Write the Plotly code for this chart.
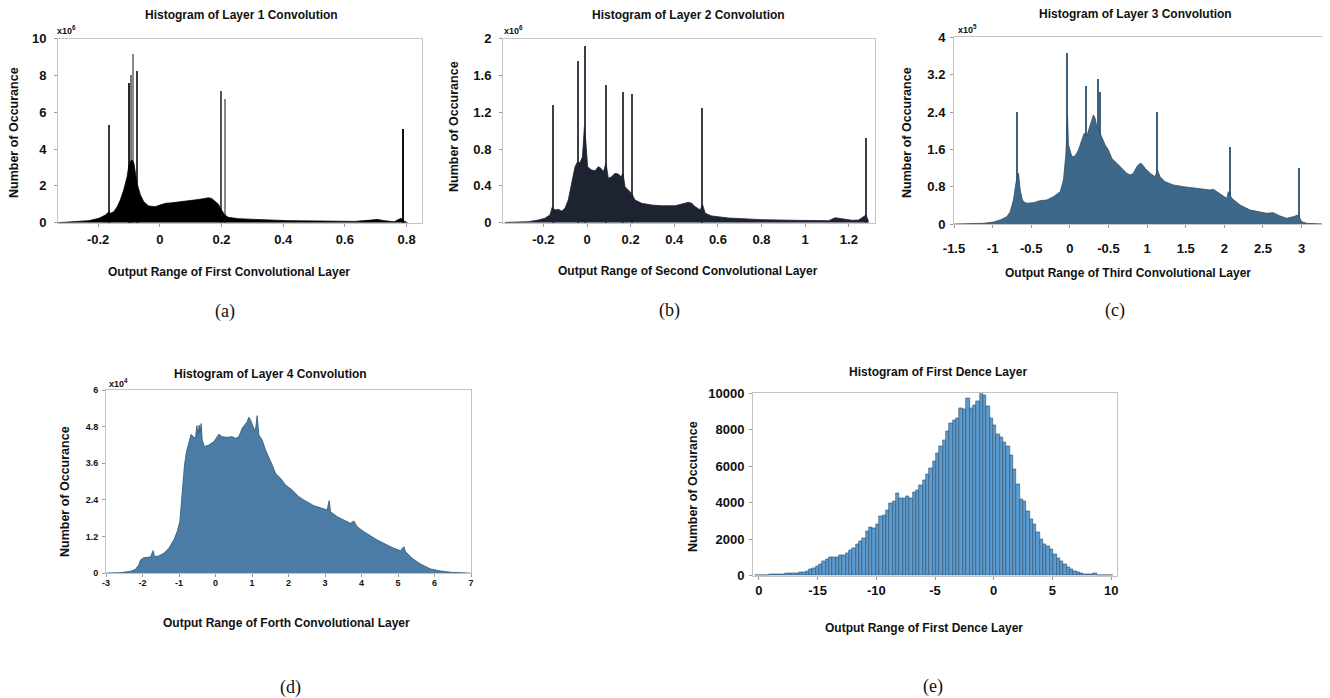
import plotly.graph_objects as go

# ---------------- (a) Layer 1 convolution (counts x10^6) ----------------
l1_x = [-0.33, -0.294, -0.23, -0.197, -0.176, -0.165, -0.16, -0.149, -0.138, -0.128, -0.117, -0.106,
        -0.1, -0.095, -0.09, -0.084, -0.079, -0.074, -0.063, -0.052, -0.036, -0.015, 0.001, 0.018,
        0.039, 0.071, 0.093, 0.125, 0.147, 0.157, 0.168, 0.179, 0.19, 0.2, 0.211, 0.222, 0.254,
        0.308, 0.415, 0.523, 0.631, 0.684, 0.706, 0.727, 0.76, 0.781, 0.792, 0.803]
l1_y = [0.0, 0.04, 0.11, 0.24, 0.42, 0.6, 0.51, 0.6, 0.87, 1.23, 1.78, 2.5,
        3.14, 3.32, 3.41, 3.23, 2.68, 2.14, 1.51, 1.14, 0.91, 0.87, 0.96, 1.05,
        1.08, 1.14, 1.17, 1.26, 1.32, 1.35, 1.32, 1.18, 1.0, 0.69, 0.42, 0.29, 0.22,
        0.18, 0.11, 0.09, 0.07, 0.14, 0.18, 0.11, 0.05, 0.24, 0.09, 0.0]
l1_spike_x = [-0.165, -0.100, -0.094, -0.086, -0.074, 0.197, 0.211, 0.790]
l1_spike_y = [5.35, 7.61, 8.06, 9.17, 8.24, 7.17, 6.72, 5.13]

# ---------------- (b) Layer 2 convolution (counts x10^6) ----------------
l2_x = [-0.376, -0.33, -0.269, -0.223, -0.193, -0.17, -0.159, -0.147, -0.132, -0.116, -0.101, -0.086,
        -0.07, -0.055, -0.043, -0.032, -0.021, -0.012, -0.006, 0.003, 0.021, 0.037, 0.052, 0.064,
        0.075, 0.087, 0.098, 0.113, 0.128, 0.144, 0.156, 0.165, 0.174, 0.19, 0.205, 0.22, 0.251,
        0.297, 0.343, 0.404, 0.435, 0.465, 0.48, 0.496, 0.519, 0.529, 0.542, 0.572, 0.649, 0.802,
        0.955, 1.107, 1.138, 1.169, 1.199, 1.215, 1.245, 1.268, 1.279, 1.291]
l2_y = [0.003, 0.004, 0.011, 0.029, 0.048, 0.084, 0.17, 0.138, 0.145, 0.127, 0.156, 0.246,
        0.427, 0.608, 0.662, 0.651, 0.716, 1.04, 0.897, 0.608, 0.572, 0.564, 0.608, 0.59,
        0.553, 0.644, 0.482, 0.499, 0.536, 0.528, 0.499, 0.536, 0.391, 0.355, 0.318, 0.246, 0.21,
        0.192, 0.184, 0.184, 0.203, 0.221, 0.21, 0.174, 0.138, 0.2, 0.102, 0.073, 0.051, 0.033,
        0.026, 0.022, 0.054, 0.043, 0.037, 0.026, 0.029, 0.065, 0.084, 0.011]
l2_spike_x = [-0.155, -0.040, -0.008, 0.089, 0.165, 0.205, 0.529, 1.279]
l2_spike_y = [1.287, 1.765, 1.927, 1.504, 1.421, 1.403, 1.248, 0.922]

# ---------------- (c) Layer 3 convolution (counts x10^5) ----------------
l3_x = [-1.5, -1.29, -1.118, -0.988, -0.902, -0.815, -0.772, -0.73, -0.695, -0.665, -0.643, -0.621,
        -0.6, -0.556, -0.471, -0.384, -0.298, -0.212, -0.125, -0.083, -0.052, -0.03, -0.018, 0.026,
        0.069, 0.111, 0.155, 0.185, 0.22, 0.254, 0.285, 0.305, 0.327, 0.349, 0.383, 0.414, 0.457,
        0.499, 0.543, 0.608, 0.673, 0.737, 0.78, 0.823, 0.867, 0.909, 0.931, 0.974, 1.039, 1.103,
        1.133, 1.168, 1.233, 1.34, 1.47, 1.643, 1.815, 1.858, 1.902, 1.966, 2.031, 2.052, 2.096,
        2.203, 2.332, 2.548, 2.634, 2.721, 2.807, 2.893, 2.957, 3.001, 3.066, 3.281]
l3_y = [0.006, 0.01, 0.021, 0.049, 0.092, 0.164, 0.271, 0.52, 0.911, 1.09, 0.734, 0.556,
        0.484, 0.449, 0.463, 0.506, 0.52, 0.591, 0.698, 0.948, 1.483, 2.3, 1.7, 1.447,
        1.461, 1.59, 1.804, 1.946, 1.889, 2.089, 2.232, 2.339, 2.267, 2.089, 1.982, 1.875, 1.697,
        1.59, 1.41, 1.305, 1.198, 1.09, 1.055, 1.09, 1.233, 1.305, 1.29, 1.198, 1.09, 1.019,
        1.162, 1.019, 0.911, 0.841, 0.805, 0.769, 0.734, 0.748, 0.698, 0.627, 0.555, 0.698, 0.556,
        0.413, 0.306, 0.235, 0.249, 0.178, 0.128, 0.164, 0.199, 0.056, 0.021, 0.006]
l3_spike_x = [-0.686, -0.039, 0.207, 0.362, 0.392, 1.125, 2.074, 2.966]
l3_spike_y = [2.402, 3.657, 2.958, 3.10, 2.815, 2.388, 1.639, 1.198]

# ---------------- (d) Layer 4 convolution (counts x10^4) ----------------
l4_x = [-3.0, -2.967, -2.603, -2.329, -2.192, -2.101, -2.055, -1.963, -1.781, -1.735, -1.708, -1.671,
        -1.553, -1.416, -1.279, -1.142, -1.05, -0.977, -0.913, -0.849, -0.795, -0.731, -0.667, -0.612,
        -0.548, -0.511, -0.48, -0.447, -0.42, -0.393, -0.365, -0.301, -0.183, -0.046, 0.091, 0.183,
        0.32, 0.457, 0.548, 0.639, 0.731, 0.868, 0.913, 0.959, 1.05, 1.096, 1.142, 1.187, 1.279,
        1.37, 1.461, 1.553, 1.644, 1.781, 1.918, 2.101, 2.283, 2.42, 2.694, 2.922, 3.059, 3.114,
        3.151, 3.333, 3.516, 3.699, 3.79, 3.881, 4.064, 4.247, 4.429, 4.703, 4.886, 5.068, 5.16,
        5.205, 5.388, 5.616, 5.89, 6.164, 6.438, 6.895, 7.0]
l4_y = [0.0, 0.01, 0.02, 0.065, 0.13, 0.273, 0.436, 0.512, 0.534, 0.709, 0.742, 0.545,
        0.567, 0.654, 0.818, 1.091, 1.363, 1.69, 2.563, 3.545, 3.981, 4.309, 4.549, 4.472,
        4.418, 4.83, 4.55, 4.85, 4.6, 4.9, 4.364, 4.145, 4.2, 4.309, 4.549, 4.472,
        4.45, 4.472, 4.418, 4.472, 4.745, 4.963, 5.107, 5.018, 4.745, 4.69, 5.16, 4.527, 4.364,
        4.036, 3.818, 3.545, 3.273, 3.109, 2.891, 2.727, 2.508, 2.399, 2.214, 2.127, 2.073, 2.378,
        2.018, 1.854, 1.745, 1.636, 1.713, 1.527, 1.363, 1.232, 1.091, 0.927, 0.818, 0.742, 0.872,
        0.709, 0.491, 0.305, 0.142, 0.076, 0.033, 0.01, 0.0]

# ---------------- (e) First dense layer (counts) ----------------
dense_bin_start = -20.3
dense_bin_width = 0.285
dense_counts = [20, 20, 40, 40, 60, 60, 75, 90, 90, 110, 110, 130, 150, 170, 200, 260, 330, 400,
                490, 620, 770, 920, 990, 1030, 990, 1100, 1130, 1230, 1410, 1500, 1720, 1860, 2050,
                2410, 2630, 2600, 2820, 3240, 3330, 3600, 3970, 4060, 4520, 4240, 4240, 4330, 4240,
                4570, 4700, 4930, 5210, 5550, 5880, 6290, 6710, 7070, 7440, 7890, 8350, 8540, 8630,
                9180, 9140, 9720, 9180, 9320, 9540, 9990, 9900, 9270, 8630, 8260, 7750, 7570, 7310,
                7070, 6580, 5850, 5010, 4190, 4060, 3550, 3090, 2820, 2360, 1990, 1740, 1610, 1430,
                1170, 950, 790, 600, 460, 330, 240, 180, 130, 90, 75, 60, 110, 40, 20, 20, 20, 10]
dense_x = [dense_bin_start + dense_bin_width * (i + 0.5) for i in range(len(dense_counts))]

W, H = 1330, 698
OFF = 8  # the page body margin shifts the figure by 8 px right and down


def px(x):
    return (x - OFF) / W


def py(y):
    return 1 - (y - OFF) / H


BOLD = "Liberation Sans"
FRAME = "#c4c4c4"

fig = go.Figure()

# (a)
fig.add_trace(go.Scatter(x=l1_x, y=l1_y, mode="lines", fill="tozeroy", fillcolor="#000000",
                         line=dict(color="#000000", width=0.8), xaxis="x", yaxis="y",
                         showlegend=False, hoverinfo="skip"))
fig.add_trace(go.Bar(x=l1_spike_x, y=l1_spike_y, width=[0.0035] * len(l1_spike_x),
                     marker=dict(color=["#3a3a3a", "#2a2a2a", "#7a7a7a", "#8a8a8a", "#3a3a3a",
                                        "#555555", "#8a8a8a", "#111111"], line=dict(width=0)),
                     xaxis="x", yaxis="y", showlegend=False))
# (b)
fig.add_trace(go.Scatter(x=l2_x, y=l2_y, mode="lines", fill="tozeroy", fillcolor="#1d2331",
                         line=dict(color="#1d2331", width=0.8), xaxis="x2", yaxis="y2",
                         showlegend=False, hoverinfo="skip"))
fig.add_trace(go.Bar(x=l2_spike_x, y=l2_spike_y, width=[0.005] * len(l2_spike_x),
                     marker=dict(color="#3c404a", line=dict(width=0)),
                     xaxis="x2", yaxis="y2", showlegend=False))
# (c)
fig.add_trace(go.Scatter(x=l3_x, y=l3_y, mode="lines", fill="tozeroy", fillcolor="#3d6889",
                         line=dict(color="#2c4d66", width=0.8), xaxis="x3", yaxis="y3",
                         showlegend=False, hoverinfo="skip"))
fig.add_trace(go.Bar(x=l3_spike_x, y=l3_spike_y, width=[0.014] * len(l3_spike_x),
                     marker=dict(color="#40617c", line=dict(width=0)),
                     xaxis="x3", yaxis="y3", showlegend=False))
# (d)
fig.add_trace(go.Scatter(x=l4_x, y=l4_y, mode="lines", fill="tozeroy", fillcolor="#4a7ca5",
                         line=dict(color="#36607f", width=0.9), xaxis="x4", yaxis="y4",
                         showlegend=False, hoverinfo="skip"))
# (e)
fig.add_trace(go.Bar(x=dense_x, y=dense_counts, width=[dense_bin_width] * len(dense_counts),
                     marker=dict(color="#5b9bcf", line=dict(color="#2f4f6c", width=0.6)),
                     xaxis="x5", yaxis="y5", showlegend=False))

tick_font = dict(family=BOLD, size=13, color="#111111", weight="bold")
small_tick_font = dict(family=BOLD, size=9, color="#111111", weight="bold")


def xax(domain, anchor, rng, vals, text, font=tick_font, standoff=2):
    return dict(domain=domain, anchor=anchor, range=rng, tickvals=vals, ticktext=text,
                showline=True, mirror=True, linecolor=FRAME, linewidth=1, showgrid=False,
                zeroline=False, ticks="outside", ticklen=3, tickcolor="#9a9a9a",
                tickfont=font, ticklabelstandoff=standoff, fixedrange=True, automargin=False)


def yax(domain, anchor, rng, vals, text, font=tick_font, standoff=3):
    return dict(domain=domain, anchor=anchor, range=rng, tickvals=vals, ticktext=text,
                showline=True, mirror=True, linecolor=FRAME, linewidth=1, showgrid=False,
                zeroline=False, ticks="outside", ticklen=3, tickcolor="#9a9a9a",
                tickfont=font, ticklabelstandoff=standoff, fixedrange=True, automargin=False)


layout = dict(
    template="none",
    width=W, height=H, margin=dict(l=0, r=0, t=0, b=0, pad=0, autoexpand=False),
    paper_bgcolor="white", plot_bgcolor="white", bargap=0, barmode="overlay",
    xaxis=xax([px(58), px(422)], "y", [-0.33, 0.85], [-0.2, 0, 0.2, 0.4, 0.6, 0.8],
              ["-0.2", "0", "0.2", "0.4", "0.6", "0.8"]),
    yaxis=yax([py(222.7), py(38.5)], "x", [0, 10], [0, 2, 4, 6, 8, 10],
              ["0", "2", "4", "6", "8", "10"], standoff=5),
    xaxis2=xax([px(503), px(875)], "y2", [-0.385, 1.32], [-0.2, 0, 0.2, 0.4, 0.6, 0.8, 1, 1.2],
               ["-0.2", "0", "0.2", "0.4", "0.6", "0.8", "1", "1.2"]),
    yaxis2=yax([py(222.7), py(38.5)], "x2", [0, 2], [0, 0.4, 0.8, 1.2, 1.6, 2],
               ["0", "0.4", "0.8", "1.2", "1.6", "2"], standoff=5),
    xaxis3=xax([px(954), px(1324)], "y3", [-1.5, 3.29], [-1.5, -1, -0.5, 0, 0.5, 1, 1.5, 2, 2.5, 3],
               ["-1.5", "-1", "-0.5", "0", "-0.5", "1", "1.5", "2", "2.5", "3"], standoff=9),
    yaxis3=yax([py(224.3), py(37.3)], "x3", [0, 4], [0, 0.8, 1.6, 2.4, 3.2, 4],
               ["0", "0.8", "1.6", "2.4", "3.2", "4"], standoff=2),
    xaxis4=xax([px(106), px(471)], "y4", [-3, 7], list(range(-3, 8)),
               [str(v) for v in range(-3, 8)], font=small_tick_font, standoff=-2),
    yaxis4=yax([py(573.3), py(390)], "x4", [0, 6], [0, 1.2, 2.4, 3.6, 4.8, 6],
               ["0", "1.2", "2.4", "3.6", "4.8", "6"], font=small_tick_font, standoff=2),
    xaxis5=xax([px(753), px(1117)], "y5", [-20.5, 10.5], [-20, -15, -10, -5, 0, 5, 10],
               ["0", "-15", "-10", "-5", "0", "5", "10"], standoff=0),
    yaxis5=yax([py(575.7), py(393.3)], "x5", [0, 10000], [0, 2000, 4000, 6000, 8000, 10000],
               ["0", "2000", "4000", "6000", "8000", "10000"], standoff=2),
)
fig.update_layout(**layout)

ann = []


def text(x, y, s, size=12, family=BOLD, bold=True, angle=0, xanchor="center"):
    ann.append(dict(x=px(x), y=py(y), xref="paper", yref="paper", text=s, showarrow=False,
                    xanchor=xanchor, yanchor="middle", textangle=angle,
                    font=dict(family=family, size=size, color="#111111",
                              weight="bold" if bold else "normal")))


# titles
text(241, 15, "Histogram of Layer 1 Convolution")
text(688, 15, "Histogram of Layer 2 Convolution")
text(1135, 14, "Histogram of Layer 3 Convolution")
text(270, 374, "Histogram of Layer 4 Convolution")
text(938, 372, "Histogram of First Dence Layer")
# x axis titles
text(229, 272, "Output Range of First Convolutional Layer")
text(688, 271, "Output Range of Second Convolutional Layer")
text(1128, 273, "Output Range of Third Convolutional Layer")
text(286, 623, "Output Range of Forth Convolutional Layer")
text(924, 628, "Output Range of First Dence Layer")
# y axis titles
text(14, 133, "Number of Occurance", angle=-90, size=12.5)
text(454, 127, "Number of Occurance", angle=-90, size=12.5)
text(907, 133, "Number of Occurance", angle=-90, size=12.5)
text(65, 492, "Number of Occurance", angle=-90, size=12.5)
text(693, 487, "Number of Occurance", angle=-90, size=12.5)
# exponent labels
text(55, 30, "x10<sup>6</sup>", size=9, xanchor="left")
text(502, 30, "x10<sup>6</sup>", size=9, xanchor="left")
text(956, 29, "x10<sup>5</sup>", size=9, xanchor="left")
text(107, 383, "x10<sup>4</sup>", size=9, xanchor="left")
# panel labels
SERIF = "Liberation Serif"
text(225, 311, "(a)", size=18, family=SERIF, bold=False)
text(669, 310, "(b)", size=18, family=SERIF, bold=False)
text(1115, 310, "(c)", size=18, family=SERIF, bold=False)
text(290, 687, "(d)", size=18, family=SERIF, bold=False)
text(933, 686, "(e)", size=18, family=SERIF, bold=False)

fig.update_layout(annotations=ann)
fig.write_html("out.html")
